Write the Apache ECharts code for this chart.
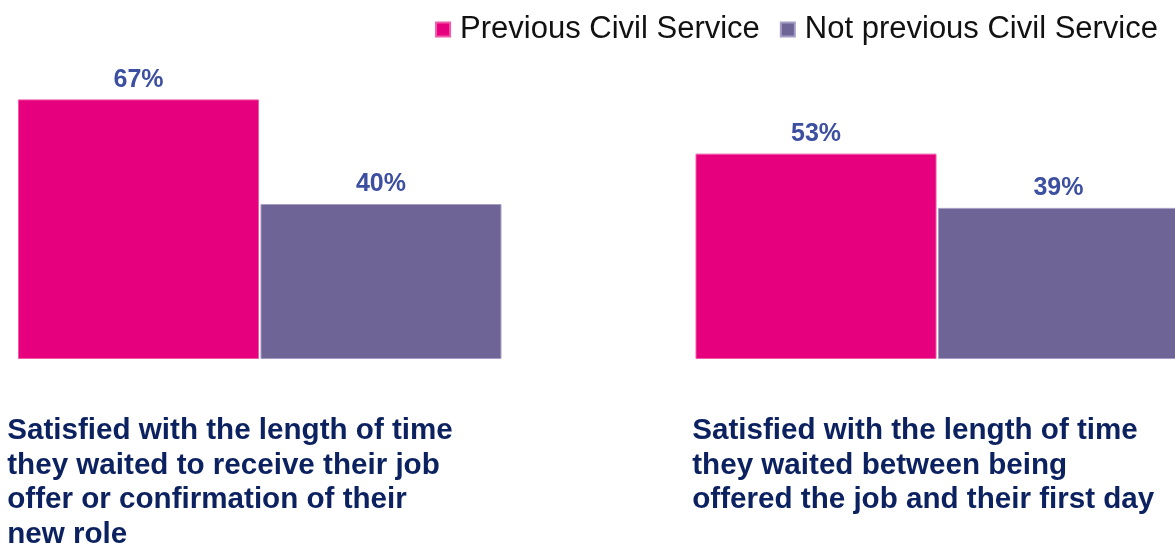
<!DOCTYPE html>
<html>
<head>
<meta charset="utf-8">
<script src="https://cdn.jsdelivr.net/npm/echarts@6/dist/echarts.min.js"></script>
<style>
  html, body { margin: 0; padding: 0; background: #ffffff; }
  #chart { width: 1175px; height: 543px; }
</style>
</head>
<body>
<div id="chart"></div>
<script>
// Chart data
const categories = [
  'Satisfied with the length of time\nthey waited to receive their job\noffer or confirmation of their\nnew role',
  'Satisfied with the length of time\nthey waited between being\noffered the job and their first day'
];
const seriesNames = ['Previous Civil Service', 'Not previous Civil Service'];
const previousCS = [67, 53];
const notPreviousCS = [40, 39];

// Colours
const COLORS = {
  pink: '#e6007e',
  pinkEdge: '#f05aa8',
  purple: '#6f6496',
  purpleEdge: '#a69dc6',
  valueLabel: '#3c4fa1',
  catLabel: '#0c215f',
  legend: '#111111',
};

const FONT = '"Liberation Sans", Arial, sans-serif';

const chart = echarts.init(document.getElementById('chart'), null, { renderer: 'canvas' });

const valueLabel = {
  show: true,
  position: 'top',
  distance: 7,
  formatter: p => p.value + '%',
  color: COLORS.valueLabel,
  fontFamily: FONT,
  fontWeight: 'bold',
  fontSize: 25,
};

// category label style, one per category so each block starts where the picture has it
const catText = { align: 'left', color: COLORS.catLabel, fontFamily: FONT, fontWeight: 'bold', fontSize: 29.6, lineHeight: 34.5 };

const option = {
  backgroundColor: '#ffffff',
  animation: false,

  legend: {
    data: seriesNames,
    right: 12,
    top: 9,
    icon: 'rect',
    itemWidth: 14,
    itemHeight: 14,
    itemGap: 20,
    textStyle: { color: COLORS.legend, fontFamily: FONT, fontSize: 31, padding: [0, 0, 0, 5] },
  },

  grid: {
    left: -79, right: -101, top: 49, bottom: 184,
    containLabel: false,
    outerBoundsMode: 'none',
  },

  xAxis: {
    type: 'category',
    data: categories,
    axisLine: { show: false },
    axisTick: { show: false },
    axisLabel: {
      interval: 0,
      margin: 55,
      align: 'center',
      hideOverlap: false,
      formatter: (value, idx) => value.split('\n').map(l => `{c${idx}|${l}}`).join('\n'),
      rich: {
        c0: Object.assign({ width: 505 }, catText),
        c1: Object.assign({ width: 490 }, catText),
      },
    },
  },

  yAxis: {
    type: 'value',
    min: 0,
    max: 80,
    show: false,
    splitLine: { show: false },
  },

  series: [
    {
      name: seriesNames[0],
      type: 'bar',
      data: previousCS,
      barWidth: 241,
      barGap: '0.6%',
      itemStyle: { color: COLORS.pink, borderColor: COLORS.pinkEdge, borderWidth: 1 },
      label: valueLabel,
    },
    {
      name: seriesNames[1],
      type: 'bar',
      data: notPreviousCS,
      barWidth: 241,
      itemStyle: { color: COLORS.purple, borderColor: COLORS.purpleEdge, borderWidth: 1 },
      label: valueLabel,
    },
  ],
};

chart.setOption(option);
</script>
</body>
</html>
